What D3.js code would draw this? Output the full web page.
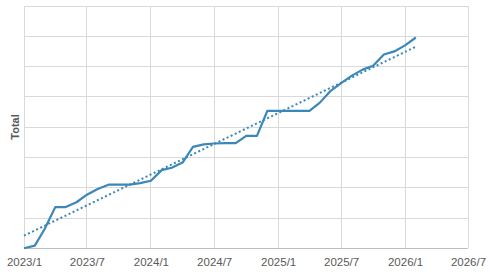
<!DOCTYPE html>
<html><head><meta charset="utf-8">
<script src="https://cdn.jsdelivr.net/npm/d3@7"></script>
<style>body{margin:0;background:#fff}svg{display:block}text{font-family:"Liberation Sans",Arial,sans-serif}</style>
</head><body><svg id="c" width="491" height="276"></svg>
<script>
const months = ["2023-01","2023-02","2023-03","2023-04","2023-05","2023-06","2023-07","2023-08","2023-09","2023-10","2023-11","2023-12",
"2024-01","2024-02","2024-03","2024-04","2024-05","2024-06","2024-07","2024-08","2024-09","2024-10","2024-11","2024-12",
"2025-01","2025-02","2025-03","2025-04","2025-05","2025-06","2025-07","2025-08","2025-09","2025-10","2025-11","2025-12",
"2026-01","2026-02"];
const totals = [0,0.9,6.3,13.6,13.6,15.2,17.7,19.6,21,21,21,21.5,
22.3,25.8,26.6,28.3,33.5,34.3,34.6,34.7,34.7,37.1,37.1,45.4,
45.4,45.4,45.4,45.4,48.1,52,54.5,57,59,60.3,64,65,
67,69.6];
const tickLabels = ["2023/1","2023/7","2024/1","2024/7","2025/1","2025/7","2026/1","2026/7"];
const tickDates = ["2023-01","2023-07","2024-01","2024-07","2025-01","2025-07","2026-01","2026-07"];
const yTicks = [0,10,20,30,40,50,60,70,80];

const parse = d3.timeParse("%Y-%m");
const data = months.map((m,i)=>({d:parse(m), v:totals[i]}));
const svg = d3.select("#c");
const L=24, R=468, T=6, B=248.3;
const x = d3.scaleTime().domain([parse("2023-01"), parse("2026-07")]).range([L,R]);
const y = d3.scaleLinear().domain([0,80]).range([B,T]);

const grid = svg.append("g");
grid.selectAll("line.h").data(yTicks).join("line")
  .attr("x1",L).attr("x2",R).attr("y1",d=>y(d)).attr("y2",d=>y(d))
  .attr("stroke",d=>d===0?"#bfbfbf":"#d9d9d9").attr("stroke-width",1).attr("shape-rendering","crispEdges");
grid.selectAll("line.v").data(tickDates).join("line")
  .attr("x1",d=>x(parse(d))).attr("x2",d=>x(parse(d))).attr("y1",T).attr("y2",B)
  .attr("stroke","#d9d9d9").attr("stroke-width",1).attr("shape-rendering","crispEdges");

const xAxis = d3.axisBottom(x).tickValues(tickDates.map(parse)).tickFormat((d,i)=>tickLabels[i]).tickSize(0).tickPadding(10);
const ga = svg.append("g").attr("transform",`translate(0,${B})`).call(xAxis);
ga.select(".domain").remove();
ga.selectAll("text").attr("fill","#595959").style("font-size","11.5px");

// linear trend (least squares)
const n=data.length, xs=data.map((d,i)=>i), ys=totals;
const mx=d3.mean(xs), my=d3.mean(ys);
const slope=d3.sum(xs.map((xi,i)=>(xi-mx)*(ys[i]-my)))/d3.sum(xs.map(xi=>(xi-mx)**2));
const icpt=my-slope*mx;
const trend=[{d:data[0].d,v:icpt},{d:data[n-1].d,v:icpt+slope*(n-1)}];

const line=d3.line().x(d=>x(d.d)).y(d=>y(d.v));
svg.append("path").datum(trend).attr("d",line).attr("fill","none")
  .attr("stroke","#3a87b8").attr("stroke-width",2).attr("stroke-dasharray","2,2.5");
svg.append("path").datum(data).attr("d",line).attr("fill","none")
  .attr("stroke","#3a87b8").attr("stroke-width",2.2).attr("stroke-linejoin","round");

svg.append("text").attr("transform",`translate(19,127) rotate(-90)`).attr("text-anchor","middle")
  .attr("fill","#595959").style("font-size","11px").style("font-weight","bold").text("Total");
</script></body></html>
